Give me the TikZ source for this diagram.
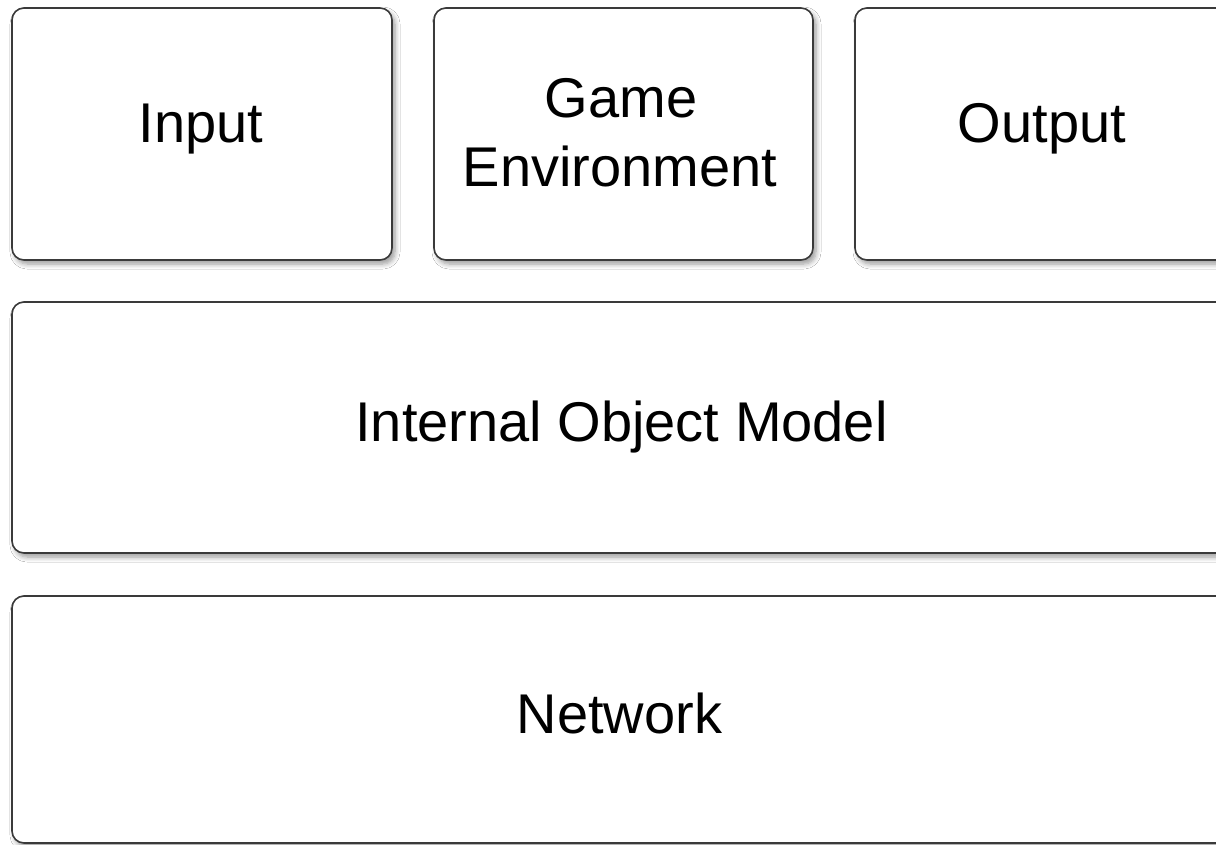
\documentclass[tikz,border=0pt]{standalone}
\usepackage{fontspec}
\setmainfont{Liberation Sans}
\usetikzlibrary{shadows.blur}

\definecolor{edgegray}{HTML}{3A3A3A}

\tikzset{
  layerbox/.style={
    draw=edgegray, line width=1.6pt, fill=white, rounded corners=12pt,
    blur shadow={shadow xshift=3pt, shadow yshift=-4pt,
                 shadow blur radius=5pt, shadow blur steps=6, shadow opacity=40}
  },
  layertext/.style={anchor=base, inner sep=0pt, font=\fontsize{56pt}{67pt}\selectfont, text=black}
}

\begin{document}
\begin{tikzpicture}[x=1pt, y=-1pt]
  \useasboundingbox (0,0) rectangle (1216,845);
  \clip (0,0) rectangle (1216,845);
  \fill[white] (0,0) rectangle (1216,845);

  % top row of modules
  \path[layerbox] (12,8) rectangle (392,260) coordinate (inputbox);
  \path[layerbox] (434,8) rectangle (813,260) coordinate (gamebox);
  \path[layerbox] (855,8) rectangle (1234,260) coordinate (outputbox);

  % shared layers underneath
  \path[layerbox] (12,302) rectangle (1233,553) coordinate (modelbox);
  \path[layerbox] (12,596) rectangle (1233,843) coordinate (netbox);

  % labels
  \node[layertext] (inputlabel) at (201,143) {Input};
  \node[layertext] (gamelabel) at (621,118) {Game};
  \node[layertext] (envlabel) at (620,187) {Environment};
  \node[layertext] (outputlabel) at (1042,143) {Output};
  \node[layertext] (modellabel) at (621.5,441) {Internal Object Model};
  \node[layertext] (netlabel) at (619.5,733) {Network};
\end{tikzpicture}
\end{document}
